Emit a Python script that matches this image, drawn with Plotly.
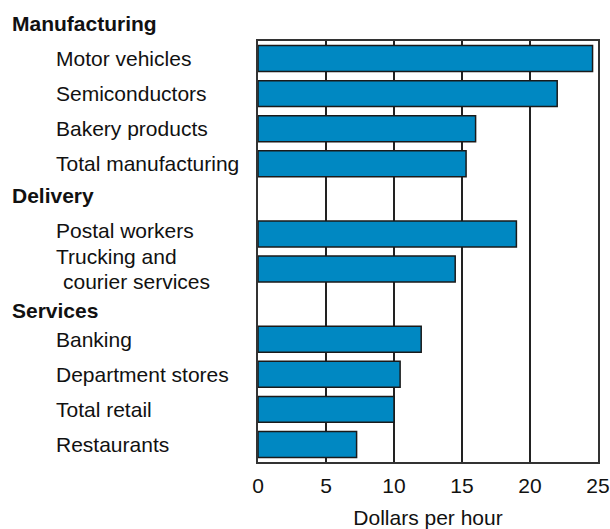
import plotly.graph_objects as go

# Hourly earnings by industry (dollars per hour)
industries = ["Motor vehicles", "Semiconductors", "Bakery products", "Total manufacturing",
              "Postal workers", "Trucking and courier services",
              "Banking", "Department stores", "Total retail", "Restaurants"]
earnings = [24.6, 22.0, 16.0, 15.3, 19.0, 14.5, 12.0, 10.45, 10.0, 7.25]

groups = ["Manufacturing", "Delivery", "Services"]
group_rows = [-1, 4, 7]              # row slots for group headings
industry_rows = [0, 1, 2, 3, 5, 6, 8, 9, 10, 11]

x_ticks = [0, 5, 10, 15, 20, 25]
x_title = "Dollars per hour"

FONT = "Liberation Sans, Arial, Helvetica, sans-serif"
FS = 21
BLUE = "#0088c2"
INK = "#111111"

L, R, T, B = 258, 12, 41, 67
W, H = 610, 529
pw = W - L - R
ph = H - T - B
ROWS_LO, ROWS_HI = -0.5, 11.5


def px_to_paper(px):
    return (px - L) / pw


def row_to_paper(r):
    # position of a row slot in paper units (rows run top to bottom)
    return 1 - (r - ROWS_LO) / (ROWS_HI - ROWS_LO)


def label(text, x_px, row, shift=0):
    return dict(
        text=text, x=px_to_paper(x_px), xref="paper", y=row_to_paper(row), yref="paper",
        xanchor="left", yanchor="middle", showarrow=False, yshift=shift,
        font=dict(family=FONT, size=FS, color=INK))


fig = go.Figure()
fig.add_trace(go.Bar(
    x=earnings, y=industry_rows, orientation="h", width=0.74,
    marker=dict(color=BLUE, line=dict(color="#1a1a1a", width=1.5)),
    hovertext=industries, hoverinfo="text+x",
))

annotations = []
group_shift = {"Manufacturing": 0, "Delivery": 3, "Services": -6}
for g, r in zip(groups, group_rows):
    annotations.append(label(f"<b>{g}</b>", 10, r, group_shift[g]))

for name, r in zip(industries, industry_rows):
    if name == "Trucking and courier services":
        annotations.append(label("Trucking and", 54, r, 12.5))
        annotations.append(label("courier services", 61, r, -12.5))
    else:
        shift = 3 if name == "Postal workers" else 0
        annotations.append(label(name, 54, r, shift))

fig.update_layout(
    width=W, height=H,
    margin=dict(l=L, r=R, t=T, b=B, autoexpand=False),
    paper_bgcolor="white", plot_bgcolor="white",
    showlegend=False,
    font=dict(family=FONT, size=FS, color=INK),
    annotations=annotations,
    xaxis=dict(
        range=[0, 25], tickvals=x_ticks, ticktext=[str(v) for v in x_ticks],
        showgrid=True, gridcolor="#222222", gridwidth=1.5, automargin=False,
        zeroline=False, showline=True, linecolor="#333333", linewidth=1.5, mirror=True,
        ticks="", ticklabelstandoff=4,
        tickfont=dict(family=FONT, size=FS, color=INK),
        title=dict(text=x_title, font=dict(family=FONT, size=FS, color=INK), standoff=24),
    ),
    yaxis=dict(
        range=[ROWS_HI, ROWS_LO], showticklabels=False, showgrid=False, zeroline=False,
        automargin=False,
        showline=True, linecolor="#333333", linewidth=1.5, mirror=True, ticks="",
    ),
)

fig.write_html("out.html")
